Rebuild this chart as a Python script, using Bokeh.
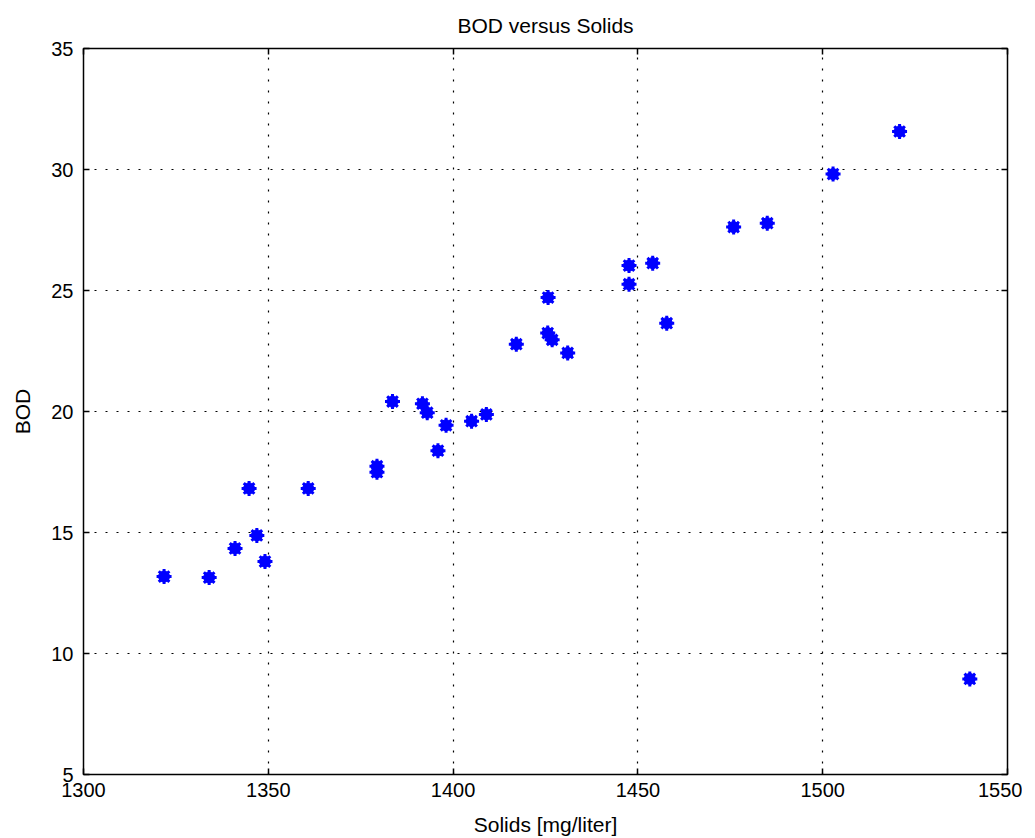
from bokeh.plotting import figure
from bokeh.models import LinearAxis, FixedTicker, Range1d, ColumnDataSource, CustomJSTickFormatter
from bokeh.embed import file_html
from bokeh.resources import INLINE

solids = [1321.8, 1334.0, 1341.0, 1344.8, 1346.9, 1349.1, 1360.8, 1379.4, 1379.4,
          1383.6, 1391.7, 1393.0, 1395.9, 1398.1, 1405.0, 1409.0, 1417.1, 1425.7,
          1425.6, 1426.8, 1431.0, 1457.8, 1447.6, 1447.6, 1454.0, 1475.9, 1485.0,
          1502.8, 1520.8, 1539.8]
bod = [13.18, 13.14, 14.34, 16.82, 14.88, 13.80, 16.82, 17.74, 17.49,
       20.41, 20.32, 19.95, 18.38, 19.43, 19.60, 19.88, 22.78, 24.71,
       23.24, 22.96, 22.42, 23.65, 26.03, 25.26, 26.13, 27.62, 27.78,
       29.81, 31.57, 8.95]
x_ticks = [1300, 1350, 1400, 1450, 1500, 1550]
y_ticks = [5, 10, 15, 20, 25, 30, 35]

FONT = "Liberation Sans"
FS = "20px"
FS_LABEL = "21px"

src = ColumnDataSource(dict(x=solids, y=bod))

p = figure(frame_width=924, frame_height=726, output_backend="svg", toolbar_location=None,
           x_range=Range1d(1300, 1550), y_range=Range1d(5, 35),
           title="BOD versus Solids",
           min_border_left=83, min_border_right=15, min_border_top=48, min_border_bottom=56)

p.title.align = "center"
p.title.text_font = FONT
p.title.text_font_size = FS_LABEL
p.title.text_font_style = "normal"
p.title.text_color = "black"
p.title.standoff = 23

p.outline_line_color = "black"
p.outline_line_width = 1.5
p.background_fill_color = "white"
p.border_fill_color = "white"

for ax, ticks in ((p.xaxis[0], x_ticks), (p.yaxis[0], y_ticks)):
    ax.ticker = FixedTicker(ticks=ticks)
    ax.major_tick_in = 6
    ax.major_tick_out = 0
    ax.minor_tick_line_color = None
    ax.axis_line_color = "black"
    ax.major_tick_line_color = "black"
    ax.major_tick_line_width = 1.5
    ax.major_label_text_font = FONT
    ax.major_label_text_font_size = FS
    ax.major_label_text_color = "black"
    ax.axis_label_text_font = FONT
    ax.axis_label_text_font_size = FS_LABEL
    ax.axis_label_text_font_style = "normal"
    ax.axis_label_text_color = "black"

p.xaxis[0].axis_label = "Solids [mg/liter]"
p.yaxis[0].axis_label = "BOD"
p.xaxis[0].major_label_standoff = 8
p.yaxis[0].major_label_standoff = 10
p.xaxis[0].axis_label_standoff = 13
p.yaxis[0].axis_label_standoff = 14

for loc, ticks in (("right", y_ticks), ("above", x_ticks)):
    ax2 = LinearAxis(ticker=FixedTicker(ticks=ticks), major_tick_in=6, major_tick_out=0,
                     minor_tick_line_color=None,
                     formatter=CustomJSTickFormatter(code="return '';"),
                     major_tick_line_width=1.5, axis_line_color="black", major_label_standoff=0)
    p.add_layout(ax2, loc)

for g, ticks in ((p.xgrid[0], x_ticks), (p.ygrid[0], y_ticks)):
    g.ticker = FixedTicker(ticks=ticks)
    g.grid_line_color = "black"
    g.grid_line_dash = "2 9"
    g.grid_line_width = 1.2

p.scatter("x", "y", source=src, marker="circle", size=11, fill_color="#0000ff", line_color="#0000ff")
p.scatter("x", "y", source=src, marker="asterisk", size=15, line_color="#0000ff", line_width=3)

open("out.html", "w").write(file_html(p, INLINE))
